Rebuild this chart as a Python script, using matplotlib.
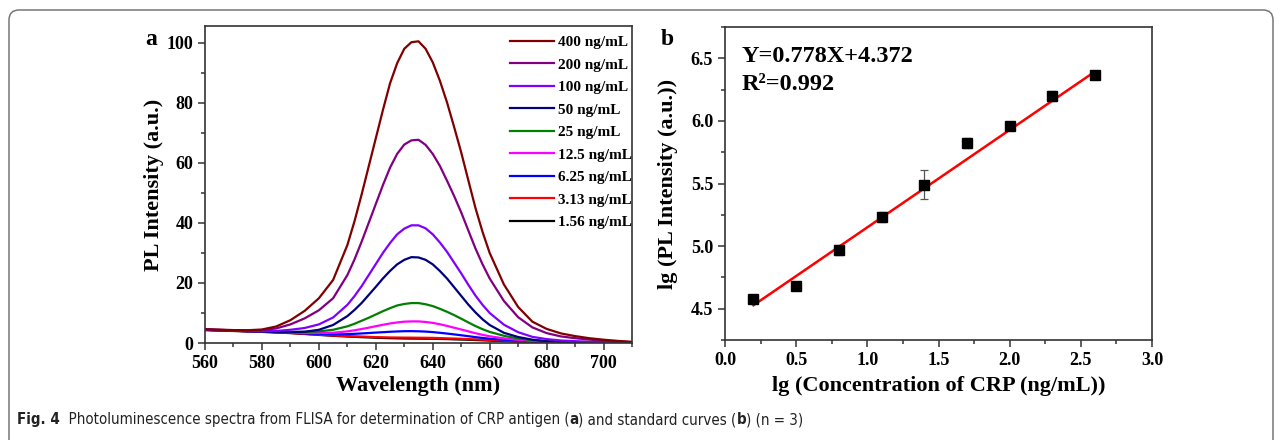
import numpy as np
import matplotlib
matplotlib.use("Agg")
import matplotlib.pyplot as plt
from matplotlib.patches import FancyBboxPatch
from matplotlib.transforms import IdentityTransform
from matplotlib.offsetbox import TextArea, HPacker, AnchoredOffsetbox
from matplotlib.ticker import MultipleLocator

# panel a: PL spectra (5 nm steps, 2.5 nm around the peak)
wavelength = list(range(560, 611, 5)) + list(np.arange(612.5, 658, 2.5)) + list(range(660, 711, 5))
pl_400 = [4.6, 4.45, 4.3, 4.25, 4.5, 5.5, 7.6, 10.7, 14.9, 21.0, 32.6,
          40.5, 49.4, 58.8, 68.2, 77.6, 86.5, 93.2, 98.0, 100.2, 100.5, 98.0, 93.5, 87.4, 80.2,
          72.0, 63.5, 54.2, 45.0, 37.0,
          30.0, 19.5, 12.0, 7.1, 4.7, 3.2, 2.3, 1.6, 1.1, 0.7, 0.4]
pl_200 = [4.5, 4.4, 4.2, 4.15, 4.3, 4.85, 6.2, 8.2, 10.9, 14.9, 22.6,
          27.8, 33.7, 40.0, 46.3, 52.6, 58.4, 63.0, 66.1, 67.5, 67.7, 66.0, 63.0, 59.0, 54.1,
          49.0, 43.5, 37.5, 31.5, 26.2,
          21.5, 14.0, 8.6, 5.2, 3.3, 2.2, 1.6, 1.15, 0.76, 0.47, 0.28]
pl_100 = [4.45, 4.3, 4.15, 4.0, 3.95, 4.0, 4.4, 5.0, 6.2, 8.5, 12.7,
          15.6, 18.9, 22.6, 26.3, 30.0, 33.3, 36.2, 38.1, 39.2, 39.2, 38.2, 36.2, 33.5, 30.4,
          26.8, 23.2, 19.4, 15.8, 12.7,
          10.0, 6.1, 3.6, 2.05, 1.3, 0.83, 0.61, 0.43, 0.29, 0.18, 0.12]
pl_50 = [4.4, 4.25, 4.1, 3.95, 3.82, 3.68, 3.64, 3.75, 4.4, 6.0, 8.95,
         11.0, 13.3, 16.0, 18.7, 21.5, 24.0, 26.2, 27.7, 28.6, 28.5, 27.7, 26.2, 24.0, 21.5,
         18.6, 15.7, 12.8, 10.2, 7.9,
         6.0, 3.4, 2.0, 1.1, 0.6, 0.35, 0.22, 0.15, 0.1, 0.07, 0.05]
pl_25 = [4.4, 4.25, 4.1, 3.97, 3.85, 3.73, 3.7, 3.7, 3.85, 4.4, 5.55,
         6.4, 7.4, 8.4, 9.5, 10.6, 11.6, 12.5, 13.0, 13.3, 13.3, 12.9, 12.3, 11.4, 10.4,
         9.3, 8.1, 6.85, 5.65, 4.6,
         3.7, 2.4, 1.5, 0.94, 0.64, 0.44, 0.33, 0.24, 0.16, 0.1, 0.07]
pl_12 = [4.4, 4.25, 4.1, 3.96, 3.82, 3.66, 3.54, 3.38, 3.3, 3.42, 3.87,
         4.22, 4.65, 5.1, 5.6, 6.07, 6.5, 6.85, 7.1, 7.2, 7.2, 7.0, 6.7, 6.25, 5.7,
         5.1, 4.5, 3.88, 3.26, 2.72,
         2.24, 1.54, 1.03, 0.68, 0.49, 0.35, 0.26, 0.19, 0.13, 0.09, 0.06]
pl_6 = [4.4, 4.25, 4.1, 3.95, 3.81, 3.62, 3.46, 3.2, 3.0, 2.9, 2.96,
        3.06, 3.18, 3.32, 3.47, 3.6, 3.74, 3.85, 3.93, 3.95, 3.9, 3.8, 3.63, 3.4, 3.15,
        2.87, 2.58, 2.27, 1.96, 1.68,
        1.43, 1.06, 0.77, 0.54, 0.4, 0.3, 0.22, 0.17, 0.11, 0.08, 0.05]
pl_3 = [4.35, 4.2, 4.05, 3.9, 3.75, 3.55, 3.35, 3.05, 2.75, 2.5, 2.3,
        2.22, 2.15, 2.05, 1.95, 1.9, 1.85, 1.82, 1.8, 1.78, 1.75, 1.73, 1.7, 1.63, 1.55,
        1.48, 1.4, 1.3, 1.2, 1.1,
        1.0, 0.8, 0.62, 0.47, 0.36, 0.27, 0.2, 0.15, 0.1, 0.07, 0.05]
pl_1 = [4.3, 4.15, 4.0, 3.85, 3.7, 3.5, 3.3, 3.0, 2.7, 2.4, 2.15,
        2.05, 1.95, 1.85, 1.75, 1.67, 1.6, 1.55, 1.5, 1.47, 1.45, 1.43, 1.4, 1.35, 1.3,
        1.22, 1.15, 1.08, 1.0, 0.9,
        0.8, 0.62, 0.48, 0.36, 0.27, 0.2, 0.15, 0.1, 0.07, 0.05, 0.03]

conc_labels = ["1.56 ng/mL", "3.13 ng/mL", "6.25 ng/mL", "12.5 ng/mL", "25 ng/mL",
               "50 ng/mL", "100 ng/mL", "200 ng/mL", "400 ng/mL"]
spectra = [pl_1, pl_3, pl_6, pl_12, pl_25, pl_50, pl_100, pl_200, pl_400]
colors = ["#000000", "#ff0000", "#0000ff", "#ff00ff", "#008000",
          "#000080", "#8000ff", "#800080", "#800000"]

# panel b: standard curve
lg_conc = [0.2, 0.5, 0.8, 1.1, 1.4, 1.7, 2.0, 2.3, 2.6]
lg_pl = [4.58, 4.68, 4.97, 5.23, 5.49, 5.82, 5.96, 6.20, 6.37]
lg_err = [0.01, 0.01, 0.04, 0.04, 0.115, 0.04, 0.02, 0.04, 0.01]
slope, intercept = 0.778, 4.372

serif = "Liberation Serif"
plt.rcParams["font.family"] = [serif, "DejaVu Serif"]
plt.rcParams["font.weight"] = "bold"

W, H = 1282, 440
fig = plt.figure(figsize=(W / 100, H / 100), dpi=100)

ax1 = fig.add_axes([205 / W, 1 - 343 / H, 427 / W, 317 / H])
ax2 = fig.add_axes([725 / W, 1 - 340 / H, 427 / W, 313 / H])

for x in (ax1, ax2):
    for s in x.spines.values():
        s.set_linewidth(1.2)
        s.set_color("#333333")
    x.tick_params(which="both", direction="out", top=False, right=False,
                  labelsize=13, width=1.1, color="#333333")
    x.tick_params(which="major", length=5)
    x.tick_params(which="minor", length=3)

# ---- panel a
handles = []
for y, c, lab in zip(spectra, colors, conc_labels):
    h, = ax1.plot(wavelength, y, color=c, lw=1.6, label=lab, solid_joinstyle="round")
    handles.append(h)
ax1.set_xlim(560, 710)
ax1.set_ylim(0, 105.6)
ax1.xaxis.set_major_locator(MultipleLocator(20))
ax1.xaxis.set_minor_locator(MultipleLocator(10))
ax1.yaxis.set_major_locator(MultipleLocator(20))
ax1.yaxis.set_minor_locator(MultipleLocator(10))
ax1.set_xlabel("Wavelength (nm)", fontsize=16, fontweight="bold")
ax1.set_ylabel("PL Intensity (a.u.)", fontsize=16, fontweight="bold")
ax1.xaxis.set_label_coords(0.5, -0.105)
ax1.yaxis.set_label_coords(-0.097, 0.5)
ax1.legend(handles[::-1], conc_labels[::-1], loc="upper right", bbox_to_anchor=(1.0, 0.97),
           frameon=False, handlelength=2.9, handletextpad=0.25,
           labelspacing=0.575, borderaxespad=0.0, borderpad=0.0,
           prop={"family": serif, "weight": "bold", "size": 11})

# ---- panel b
xs = np.array(lg_conc)
ax2.errorbar(xs, lg_pl, yerr=lg_err, fmt="none", ecolor="#555555", elinewidth=0.9,
             capsize=3, capthick=0.9, zorder=2)
fit_x = np.array([xs.min(), xs.max()])
ax2.plot(fit_x, slope * fit_x + intercept, color="#ff0000", lw=1.8, zorder=3)
ax2.plot(xs, lg_pl, "s", color="black", ms=6.5, zorder=4)
ax2.set_xlim(0, 3.0)
ax2.set_ylim(4.25, 6.75)
ax2.xaxis.set_major_locator(MultipleLocator(0.5))
ax2.xaxis.set_minor_locator(MultipleLocator(0.25))
ax2.yaxis.set_major_locator(MultipleLocator(0.5))
ax2.yaxis.set_minor_locator(MultipleLocator(0.25))
ax2.set_xlabel("lg (Concentration of CRP (ng/mL))", fontsize=16, fontweight="bold")
ax2.set_ylabel("lg (PL Intensity (a.u.))", fontsize=16, fontweight="bold")
ax2.xaxis.set_label_coords(0.5, -0.115)
ax2.yaxis.set_label_coords(-0.110, 0.5)
ax2.text(742, H - 62, "Y=%.3fX+%.3f" % (slope, intercept), transform=IdentityTransform(),
         fontsize=17.5, fontweight="bold", va="baseline")
ax2.text(742, H - 90, "R²=0.992", transform=IdentityTransform(),
         fontsize=17.5, fontweight="bold", va="baseline")

# panel letters
fig.text(145 / W, 1 - 45 / H, "a", fontsize=17, fontweight="bold", va="baseline")
fig.text(661 / W, 1 - 45 / H, "b", fontsize=17, fontweight="bold", va="baseline")

# rounded frame around the figure
frame = FancyBboxPatch((9, -30), 1264, H - 10 + 30, boxstyle="round,pad=0,rounding_size=10",
                       transform=IdentityTransform(), facecolor="none",
                       edgecolor="#777777", lw=1.1)
fig.patches.append(frame)

# caption
def piece(t, bold=False):
    return TextArea(t, textprops=dict(family=["DejaVu Sans"], stretch="condensed", size=10.8,
                                      weight="bold" if bold else "normal", color="#222222"))
parts = [piece("Fig. 4", True),
         piece("  Photoluminescence spectra from FLISA for determination of CRP antigen ("),
         piece("a", True), piece(") and standard curves ("), piece("b", True),
         piece(") (n = 3)")]
box = HPacker(children=parts, align="baseline", pad=0, sep=0)
anc = AnchoredOffsetbox(loc="lower left", child=box, pad=0, borderpad=0, frameon=False,
                        bbox_to_anchor=(17 / W, 13 / H), bbox_transform=fig.transFigure)
fig.add_artist(anc)

fig.savefig("out.png", dpi=100)
